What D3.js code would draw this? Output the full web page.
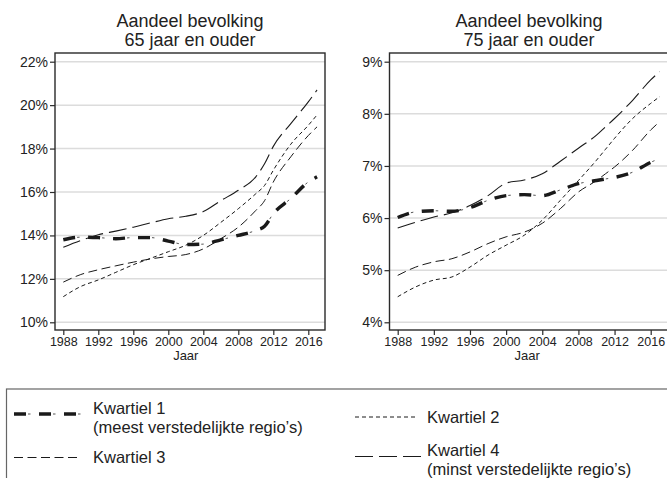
<!DOCTYPE html>
<html><head><meta charset="utf-8">
<script src="https://cdn.jsdelivr.net/npm/d3@7"></script>
<style>
body{margin:0;background:#fff;}
text{font-family:"Liberation Sans",Arial,Helvetica,sans-serif;fill:#222;}
</style></head>
<body><svg id="c" width="667" height="478"></svg>
<script>
const years = [1988,1990,1992,1994,1996,1998,2000,2002,2004,2006,2008,2010,2011,2012,2014,2016,2017];
const xTicks = [1988,1992,1996,2000,2004,2008,2012,2016];
const seriesNames = ["Kwartiel 1","Kwartiel 2","Kwartiel 3","Kwartiel 4"];

// Panel 1: 65 jaar en ouder (%)
const p65_k1 = [13.8,13.92,13.9,13.85,13.9,13.9,13.74,13.58,13.6,13.8,14.0,14.23,14.42,15.0,15.7,16.46,16.7];
const p65_k2 = [11.18,11.65,11.95,12.3,12.65,12.95,13.25,13.55,14.0,14.6,15.23,15.92,16.3,17.0,18.2,19.07,19.55];
const p65_k3 = [11.85,12.2,12.42,12.6,12.77,12.92,13.03,13.12,13.38,13.85,14.38,15.15,15.6,16.46,17.62,18.6,19.0];
const p65_k4 = [13.46,13.77,14.03,14.2,14.38,14.58,14.77,14.88,15.1,15.6,16.08,16.7,17.3,18.1,19.15,20.15,20.7];
const p65_ticks = [10,12,14,16,18,20,22];

// Panel 2: 75 jaar en ouder (%)
const p75_k1 = [6.01,6.12,6.14,6.13,6.2,6.34,6.43,6.45,6.43,6.54,6.66,6.72,6.75,6.78,6.88,7.07,7.14];
const p75_k2 = [4.49,4.68,4.81,4.87,5.06,5.29,5.48,5.67,5.96,6.34,6.72,7.11,7.32,7.53,7.91,8.2,8.33];
const p75_k3 = [4.9,5.06,5.16,5.22,5.35,5.51,5.64,5.73,5.9,6.18,6.5,6.72,6.85,6.98,7.3,7.69,7.85];
const p75_k4 = [5.81,5.92,6.02,6.1,6.24,6.43,6.67,6.73,6.85,7.09,7.34,7.59,7.75,7.91,8.26,8.65,8.81];
const p75_ticks = [4,5,6,7,8,9];

const svg = d3.select("#c");
const styles = [
  {w:3.4, dash:"12,13", thin:"0,14,2.5,8.5"},
  {w:1, dash:"4,3"},
  {w:1, dash:"9,4.5"},
  {w:1.1, dash:"18,6"}
];

function panel(opts){
  const {left,right,top,bottom,x0,x1,ymin,ymax,yTop,yBot,ticks,data,title} = opts;
  const g = svg.append("g");
  const x = d3.scaleLinear().domain([1988,2016]).range([x0,x1]);
  const y = d3.scaleLinear().domain([ymin,ymax]).range([yBot,yTop]);
  g.selectAll(".grid").data(ticks).join("line")
    .attr("x1",left).attr("x2",right).attr("y1",d=>y(d)).attr("y2",d=>y(d))
    .attr("stroke","#dcdcdc").attr("stroke-width",1.5);
  const line = d3.line().x((d,i)=>x(years[i])).y(d=>y(d)).curve(d3.curveMonotoneX);
  data.forEach((s,i)=>{
    const st = styles[i];
    g.append("path").attr("d",line(s)).attr("fill","none").attr("stroke","#1a1a1a")
      .attr("stroke-width",st.w).attr("stroke-dasharray",st.dash);
    if(st.thin) g.append("path").attr("d",line(s)).attr("fill","none").attr("stroke","#555")
      .attr("stroke-width",1).attr("stroke-dasharray",st.thin);
  });
  g.append("rect").attr("x",left).attr("y",top).attr("width",right-left).attr("height",bottom-top)
    .attr("fill","none").attr("stroke","#2a2a2a").attr("stroke-width",1.4);
  const ya = g.append("g").attr("transform",`translate(${left},0)`)
    .call(d3.axisLeft(y).tickValues(ticks).tickSize(5).tickFormat(d=>d+"%"));
  ya.select(".domain").remove();
  ya.selectAll("line").attr("stroke","#2a2a2a").attr("stroke-width",1.2);
  ya.selectAll("text").attr("font-size",14).attr("x",-7).style("fill","#222");
  const xa = g.append("g").attr("transform",`translate(0,${bottom})`)
    .call(d3.axisBottom(x).tickValues(xTicks).tickSize(5).tickFormat(d3.format("d")));
  xa.select(".domain").remove();
  xa.selectAll("line").attr("stroke","#2a2a2a").attr("stroke-width",1.2);
  xa.selectAll("text").attr("font-size",12.5).attr("y",7).style("fill","#222");
  const cx = (left+right)/2;
  g.append("text").attr("x",(x0+x1)/2+ (right>667? 3:0)).attr("y",355).attr("text-anchor","middle")
    .attr("dominant-baseline","central").attr("font-size",13).text("Jaar");
  g.append("text").attr("x",cx).attr("y",21).attr("text-anchor","middle").attr("dominant-baseline","central")
    .attr("font-size",18).text(title[0]);
  g.append("text").attr("x",cx).attr("y",40).attr("text-anchor","middle").attr("dominant-baseline","central")
    .attr("font-size",18).text(title[1]);
}

panel({left:55,right:325,top:53,bottom:330,x0:63.3,x1:308.3,ymin:10,ymax:22,yTop:61.7,yBot:322.3,
  ticks:p65_ticks,data:[p65_k1,p65_k2,p65_k3,p65_k4],title:["Aandeel bevolking","65 jaar en ouder"]});
panel({left:389.5,right:668.5,top:53,bottom:330,x0:397.7,x1:650.7,ymin:4,ymax:9,yTop:61.7,yBot:322.3,
  ticks:p75_ticks,data:[p75_k1,p75_k2,p75_k3,p75_k4],title:["Aandeel bevolking","75 jaar en ouder"]});

// legend
const lg = svg.append("g");
lg.append("rect").attr("x",6.5).attr("y",389).attr("width",700).attr("height",120)
  .attr("fill","none").attr("stroke","#666").attr("stroke-width",1.2);
const legendItems = [
  {i:0,x1:14,x2:81,ly:414,tx:93,lines:["Kwartiel 1","(meest verstedelijkte regio\u2019s)"],ty:[408,427]},
  {i:1,x1:355,x2:416,ly:417,tx:427,lines:["Kwartiel 2"],ty:[416.5]},
  {i:2,x1:14,x2:81,ly:457.5,tx:93,lines:["Kwartiel 3"],ty:[457]},
  {i:3,x1:355,x2:421,ly:456.5,tx:427,lines:["Kwartiel 4","(minst verstedelijkte regio\u2019s)"],ty:[449.5,468.5]}
];
legendItems.forEach(it=>{
  const st = styles[it.i];
  lg.append("line").attr("x1",it.x1).attr("x2",it.x2).attr("y1",it.ly).attr("y2",it.ly)
    .attr("stroke","#1a1a1a").attr("stroke-width",st.w).attr("stroke-dasharray",st.dash);
  if(st.thin) lg.append("line").attr("x1",it.x1).attr("x2",it.x2).attr("y1",it.ly).attr("y2",it.ly)
    .attr("stroke","#555").attr("stroke-width",1).attr("stroke-dasharray",st.thin);
  it.lines.forEach((t,k)=>{
    lg.append("text").attr("x",it.tx).attr("y",it.ty[k]).attr("dominant-baseline","central")
      .attr("font-size",16.5).text(t);
  });
});
</script></body></html>
